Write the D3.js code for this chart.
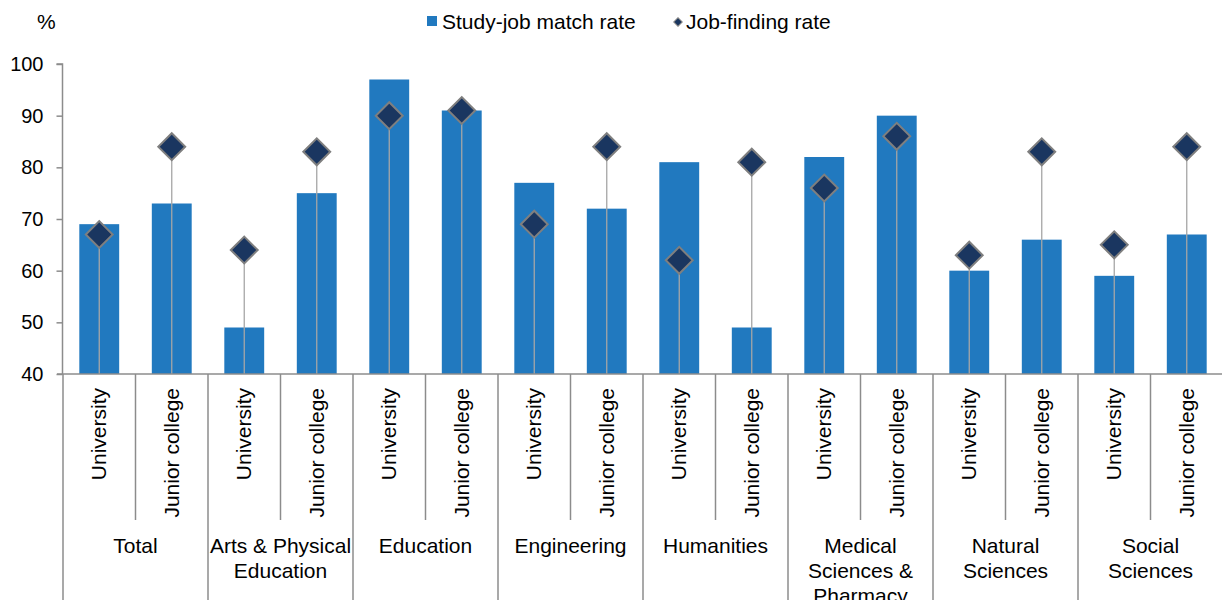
<!DOCTYPE html>
<html><head><meta charset="utf-8">
<script src="https://cdn.jsdelivr.net/npm/d3@7"></script>
<style>body{margin:0;background:#fff}svg{display:block;font-family:"Liberation Sans",Arial,sans-serif}</style>
</head><body><svg id="c" width="1222" height="600"></svg>
<script>
const groups = [["Total"],["Arts & Physical","Education"],["Education"],["Engineering"],["Humanities"],["Medical","Sciences &","Pharmacy"],["Natural","Sciences"],["Social","Sciences"]];
const levels = ["University","Junior college"];
const matchRate = [69,73, 49,75, 97,91, 77,72, 81,49, 82,90, 60,66, 59,67];
const findRate  = [67,84, 64,83, 90,91, 69,84, 62,81, 76,86, 63,83, 65,84];
const yTicks = [40,50,60,70,80,90,100];

const svg = d3.select("#c");
const L = 63, R = 1223, T = 64, B = 374;
const keys = d3.range(16);
const x = d3.scaleBand().domain(keys).range([L,R]).paddingInner(0.45).paddingOuter(0.225);
const y = d3.scaleLinear().domain([40,100]).range([B,T]);
const slot = x.step();
const cx = i => x(i) + x.bandwidth()/2;
const grey = "#8c8c8c";
const FS = 21;

// bars
svg.append("g").selectAll("rect").data(keys).join("rect")
  .attr("x", i => x(i)).attr("width", x.bandwidth())
  .attr("y", i => y(matchRate[i])).attr("height", i => B - y(matchRate[i]))
  .attr("fill", "#2179bf");

// drop lines
svg.append("g").selectAll("line").data(keys).join("line")
  .attr("x1", i => cx(i)).attr("x2", i => cx(i))
  .attr("y1", i => y(findRate[i])).attr("y2", B)
  .attr("stroke", "#a6a6a6").attr("stroke-width", 1.3);

// diamonds
svg.append("g").selectAll("path").data(keys).join("path")
  .attr("d", d3.symbol().type(d3.symbolSquare).size(19*19))
  .attr("transform", i => `translate(${cx(i)},${y(findRate[i])}) rotate(45)`)
  .attr("fill", "#1a3660").attr("stroke", "#7f7f7f").attr("stroke-width", 2);

// y axis
const ya = svg.append("g").attr("transform", `translate(${L-0.5},0)`)
  .call(d3.axisLeft(y).tickValues(yTicks).tickSize(6).tickPadding(13));
ya.selectAll("path, line").attr("stroke", grey).attr("stroke-width", 1.5);
ya.selectAll("text").attr("font-size", 20).attr("fill", "#000").attr("font-family", "Liberation Sans, Arial, sans-serif");
ya.select(".domain").attr("d", `M-6,${T}H0V${B}`);

// x baseline
svg.append("line").attr("x1", L-6).attr("x2", R).attr("y1", B).attr("y2", B)
  .attr("stroke", grey).attr("stroke-width", 1.5);

// separators
const seps = d3.range(0, 17);
svg.append("g").selectAll("line").data(seps).join("line")
  .attr("x1", i => L + slot*i).attr("x2", i => L + slot*i)
  .attr("y1", B).attr("y2", i => i % 2 === 0 ? 600 : 520)
  .attr("stroke", grey).attr("stroke-width", 1.5);

// level labels
svg.append("g").selectAll("text").data(keys).join("text")
  .attr("transform", i => `translate(${cx(i)+7},388) rotate(-90)`)
  .attr("text-anchor", "end").attr("font-size", FS).attr("fill", "#000")
  .text(i => levels[i % 2]);

// group labels
groups.forEach((g, gi) => {
  const gx = L + slot*(2*gi+1);
  const t = svg.append("text").attr("x", gx).attr("y", 553)
    .attr("text-anchor", "middle").attr("font-size", FS).attr("fill", "#000");
  g.forEach((line, li) => t.append("tspan").attr("x", gx).attr("dy", li ? 25 : 0).text(line));
});

// % label
svg.append("text").attr("x", 37).attr("y", 29).attr("font-size", FS).attr("fill", "#000").text("%");

// legend
const lg = svg.append("g");
lg.append("rect").attr("x", 427).attr("y", 16).attr("width", 10).attr("height", 10).attr("fill", "#2179bf");
lg.append("text").attr("x", 442).attr("y", 29).attr("font-size", FS).attr("fill", "#000").text("Study-job match rate");
lg.append("path").attr("d", d3.symbol().type(d3.symbolSquare).size(36))
  .attr("transform", "translate(678,22) rotate(45)").attr("fill", "#1a3660").attr("stroke", "#7f7f7f").attr("stroke-width", 1);
lg.append("text").attr("x", 686).attr("y", 29).attr("font-size", FS).attr("fill", "#000").text("Job-finding rate");
</script></body></html>
